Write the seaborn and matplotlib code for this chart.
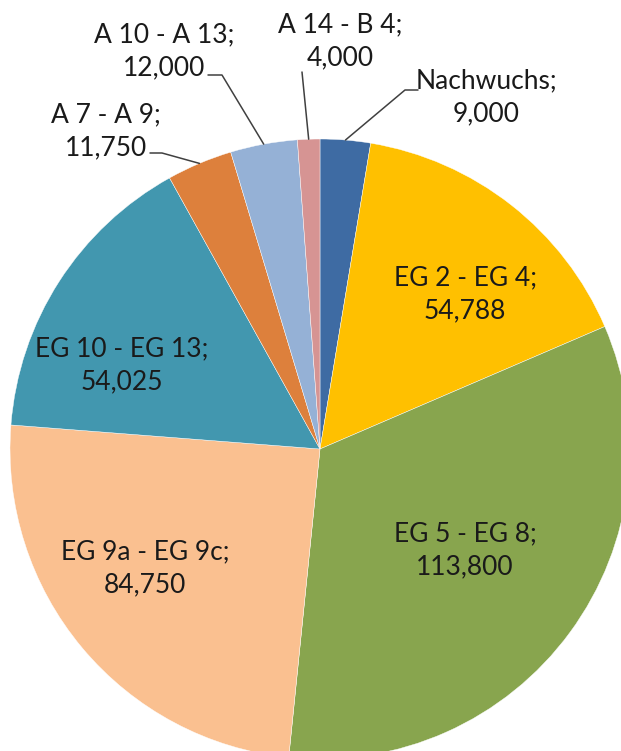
import matplotlib
matplotlib.use("Agg")
import numpy as np
import matplotlib.pyplot as plt
import seaborn as sns

# ----------------------------
# Data (clockwise from 12 o'clock)
# ----------------------------
groups = ["Nachwuchs", "EG 2 - EG 4", "EG 5 - EG 8", "EG 9a - EG 9c",
          "EG 10 - EG 13", "A 7 - A 9", "A 10 - A 13", "A 14 - B 4"]
values = [9000, 54788, 113800, 84750, 54025, 11750, 12000, 4000]
colors = ["#3E6BA3", "#FFC000", "#88A54E", "#FAC090",
          "#4297AF", "#DD803C", "#95B1D6", "#D69493"]

# ----------------------------
# Layout (pixels of the 621x751 canvas)
# ----------------------------
W, H = 621, 751
CX, CY, R = 320, 449, 310

def px(x, y):
    return (x - CX) / R, (CY - y) / R

# label centre for each slice; outside labels also get a leader (start, elbow)
label_pos = {
    "Nachwuchs": (486, 97),
    "EG 2 - EG 4": (465, 294),
    "EG 5 - EG 8": (465, 550),
    "EG 9a - EG 9c": (145, 568),
    "EG 10 - EG 13": (122, 365),
    "A 7 - A 9": (106, 131),
    "A 10 - A 13": (164, 51),
    "A 14 - B 4": (340, 41),
}
leaders = {
    "Nachwuchs": [(418, 90), (405, 90)],
    "A 7 - A 9": [(150, 153), (162, 153)],
    "A 10 - A 13": [(208, 75), (222, 75)],
    "A 14 - B 4": [(302, 72)],
}

sns.set_style("white")
plt.rcParams["font.family"] = ["Lato", "DejaVu Sans"]

fig = plt.figure(figsize=(W / 100, H / 100), dpi=100)
ax = fig.add_axes([0, 0, 1, 1])

wedges, _ = ax.pie(values, colors=colors, startangle=90, counterclock=False,
                   radius=1, wedgeprops=dict(edgecolor="white", linewidth=0.3))

for name, val, w in zip(groups, values, wedges):
    tx, ty = px(*label_pos[name])
    ax.text(tx, ty, f"{name};\n{val:,}", ha="center", va="center",
            fontsize=19, color="#1a1a1a", linespacing=1.4)
    if name in leaders:
        mid = np.deg2rad((w.theta1 + w.theta2) / 2)
        pts = [px(*p) for p in leaders[name]] + [(np.cos(mid), np.sin(mid))]
        xs, ys = zip(*pts)
        ax.plot(xs, ys, color="#404040", lw=1.1)

ax.set_aspect("auto")
ax.set_xlim(-CX / R, (W - CX) / R)
ax.set_ylim(-(H - CY) / R, CY / R)
ax.axis("off")

fig.savefig("out.png", dpi=100)
